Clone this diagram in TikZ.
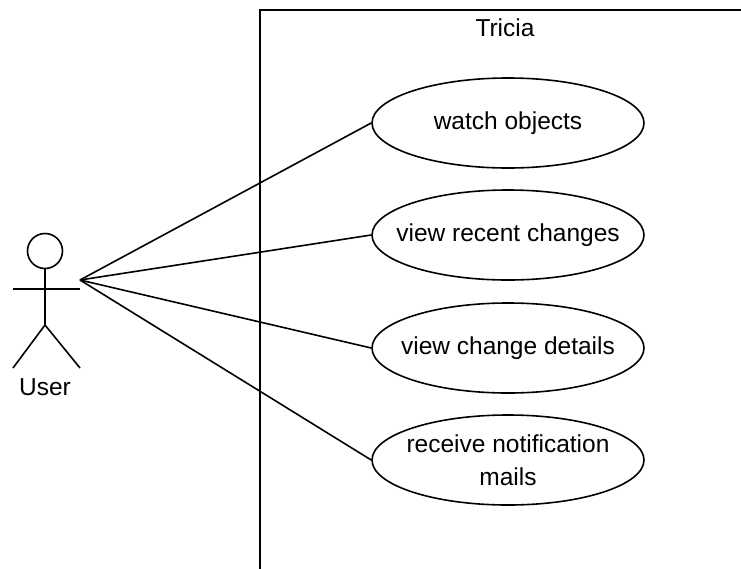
\documentclass[tikz,border=0pt]{standalone}
\usepackage{fontspec}
\setmainfont{Liberation Sans}
\usetikzlibrary{shapes.geometric}
\begin{document}
\begin{tikzpicture}[x=1pt,y=-1pt,line width=1.6pt,
  usecase/.style={draw,ellipse,minimum width=272pt,minimum height=90pt,inner xsep=-30pt,inner ysep=0pt,align=center,font=\fontsize{24.5}{33}\selectfont},
  lbl/.style={inner sep=0pt,font=\fontsize{24.5}{33}\selectfont}]
\useasboundingbox (0,0) rectangle (741,568);
\begin{scope}
\clip (0,0) rectangle (741,568);
\draw[line width=1.5pt] (260,10) rectangle (800,620);
\end{scope}
\node[lbl] (sys) at (505,28) {Tricia};
% actor
\draw (45,251) circle (17.5);
\coordinate (neck) at (45,268.5);
\coordinate (hip) at (45,325);
\coordinate (lh) at (13,289);
\coordinate (rh) at (80,289);
\coordinate (lf) at (13,368);
\coordinate (rf) at (80,368);
\draw (neck) -- (hip);
\draw (lh) -- (rh);
\draw (lf) -- (hip) -- (rf);
\node[lbl] (user) at (45,387) {User};
\coordinate (hand) at (80,280);
% use cases
\node[usecase] (u1) at (508,123) {watch objects};
\node[usecase] (u2) at (508,235) {view recent changes};
\node[usecase] (u3) at (508,348) {view change details};
\node[usecase] (u4) at (508,460) {receive notification\\mails};
\foreach \u in {u1,u2,u3,u4} \draw (hand) -- (\u.west);
\end{tikzpicture}
\end{document}
